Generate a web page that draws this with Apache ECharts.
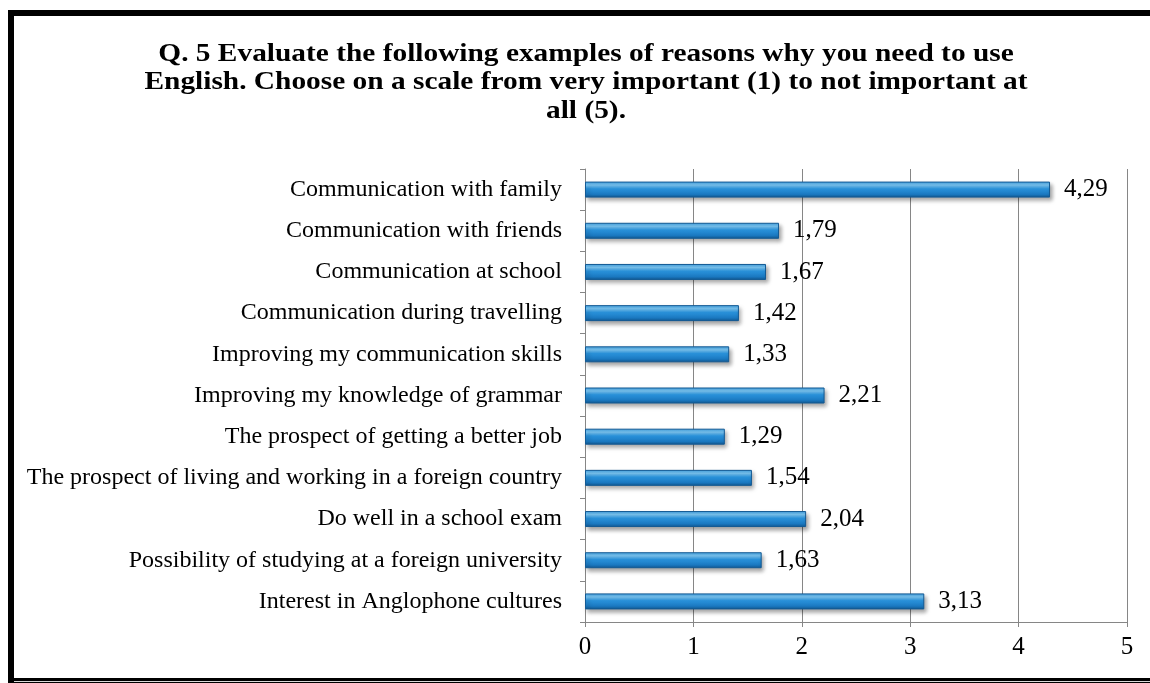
<!DOCTYPE html>
<html>
<head>
<meta charset="utf-8">
<script src="https://cdn.jsdelivr.net/npm/echarts@6/dist/echarts.min.js"></script>
<style>
  html, body { margin: 0; padding: 0; background: #fff; }
  #chart { width: 1150px; height: 683px; }
</style>
</head>
<body>
<div id="chart"></div>
<script>
// Survey reasons, listed top to bottom
const categories = [
  'Communication with family',
  'Communication with friends',
  'Communication at school',
  'Communication during travelling',
  'Improving my communication skills',
  'Improving my knowledge of grammar',
  'The prospect of getting a better job',
  'The prospect of living and working in a foreign country',
  'Do well in a school exam',
  'Possibility of studying at a foreign university',
  'Interest in Anglophone cultures'
];
// Mean importance score (1 = very important, 5 = not important at all)
const meanScores = [4.29, 1.79, 1.67, 1.42, 1.33, 2.21, 1.29, 1.54, 2.04, 1.63, 3.13];
const axisTicks = [0, 1, 2, 3, 4, 5];

const titleLines = [
  'Q. 5 Evaluate the following examples of reasons why you need to use',
  'English. Choose on a scale from very important (1) to not important at',
  'all (5).'
];

const serif = '"Liberation Serif", "Times New Roman", serif';
const chart = echarts.init(document.getElementById('chart'));

const barFill = new echarts.graphic.LinearGradient(0, 0, 0, 1, [
  { offset: 0, color: '#3f9fe0' },
  { offset: 0.22, color: '#7cc8f6' },
  { offset: 0.45, color: '#2a93dc' },
  { offset: 0.8, color: '#1a78c0' },
  { offset: 1, color: '#12578f' }
]);

chart.setOption({
  animation: false,
  graphic: [
    // Title, set in a slightly widened bold serif
    {
      type: 'text',
      x: 586,
      y: 40,
      scaleX: 1.175,
      style: {
        text: titleLines.join('\n'),
        font: 'bold 25px ' + serif,
        lineHeight: 28.5,
        fill: '#000',
        textAlign: 'center',
        textVerticalAlign: 'top'
      },
      z: 50
    },
    // Outer frame
    {
      type: 'rect',
      shape: { x: 11, y: 13, width: 1300, height: 668 },
      style: { fill: 'none', stroke: '#000', lineWidth: 6 },
      z: 100
    },
    {
      type: 'line',
      shape: { x1: 14, y1: 681.5, x2: 1150, y2: 681.5 },
      style: { stroke: '#d9d9d9', lineWidth: 1 },
      z: 101
    }
  ],
  grid: { left: 585, right: 23, top: 169, bottom: 61 },
  xAxis: {
    type: 'value',
    min: axisTicks[0],
    max: axisTicks[axisTicks.length - 1],
    interval: 1,
    axisLine: { show: true, lineStyle: { color: '#868686', width: 1 } },
    axisTick: { show: true, length: 5, lineStyle: { color: '#868686' } },
    splitLine: { show: true, lineStyle: { color: '#868686', width: 1 } },
    axisLabel: {
      fontFamily: serif,
      fontSize: 25,
      color: '#000',
      margin: 13,
      formatter: v => String(v)
    }
  },
  yAxis: {
    type: 'category',
    data: categories,
    inverse: true,
    axisLine: { show: true, lineStyle: { color: '#868686', width: 1 } },
    axisTick: { show: true, length: 5, lineStyle: { color: '#868686' } },
    axisLabel: {
      fontFamily: serif,
      fontSize: 24,
      color: '#000',
      margin: 23
    }
  },
  series: [{
    type: 'bar',
    data: meanScores,
    barWidth: 16,
    itemStyle: {
      color: barFill,
      borderColor: '#135a94',
      borderWidth: 1,
      shadowColor: 'rgba(0,0,0,0.35)',
      shadowBlur: 4,
      shadowOffsetX: 2,
      shadowOffsetY: 3
    },
    label: {
      show: true,
      position: 'right',
      distance: 14,
      fontFamily: serif,
      fontSize: 25,
      color: '#000',
      formatter: p => p.value.toFixed(2).replace('.', ',')
    }
  }]
});
</script>
</body>
</html>
